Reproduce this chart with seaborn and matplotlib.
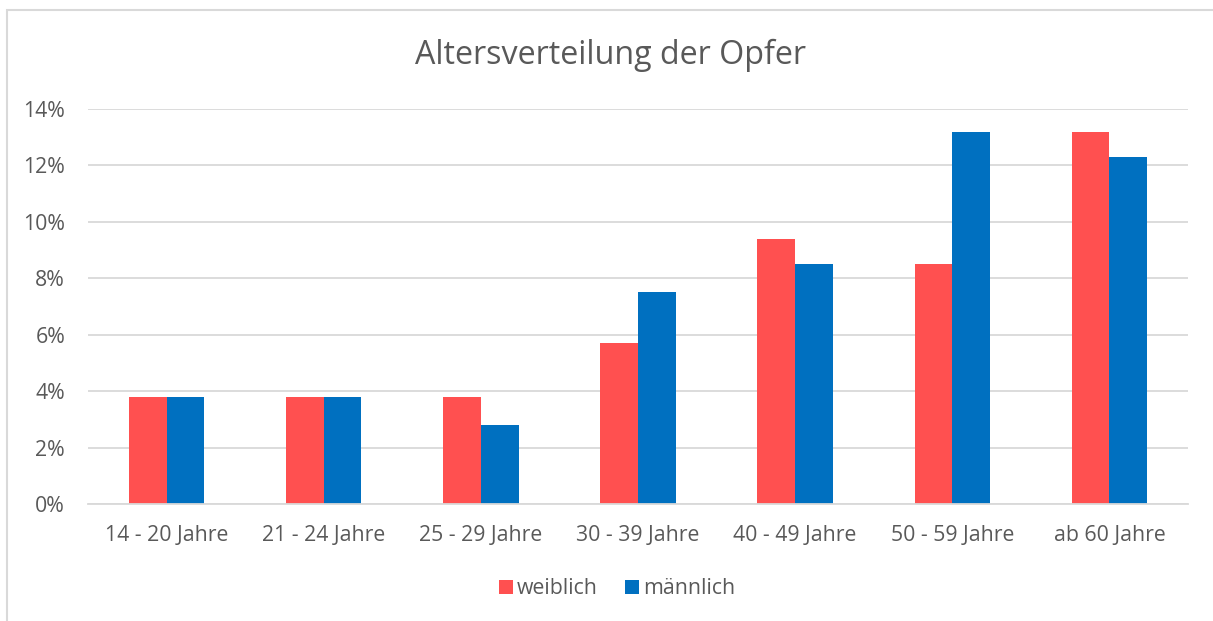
import matplotlib
matplotlib.use("Agg")
import matplotlib.pyplot as plt
import seaborn as sns
import pandas as pd
from matplotlib.patches import Rectangle
from matplotlib.ticker import FuncFormatter

categories = ["14 - 20 Jahre", "21 - 24 Jahre", "25 - 29 Jahre", "30 - 39 Jahre",
              "40 - 49 Jahre", "50 - 59 Jahre", "ab 60 Jahre"]
weiblich = [3.8, 3.8, 3.8, 5.7, 9.4, 8.5, 13.2]
maennlich = [3.8, 3.8, 2.8, 7.5, 8.5, 13.2, 12.3]
series_names = ["weiblich", "männlich"]
colors = ["#FF5050", "#0070C0"]
yticks = [0, 2, 4, 6, 8, 10, 12, 14]

df = pd.DataFrame({
    "Kategorie": categories * 2,
    "Wert": weiblich + maennlich,
    "Geschlecht": [series_names[0]] * len(categories) + [series_names[1]] * len(categories),
})

sns.set_theme(style="white")
plt.rcParams["font.family"] = ["Open Sans", "DejaVu Sans"]
txt = "#595959"

fig = plt.figure(figsize=(12.13, 6.21), dpi=100)
ax = fig.add_axes([88/1213, 1-504/621, (1188-88)/1213, (504-109)/621])

sns.barplot(data=df, x="Kategorie", y="Wert", hue="Geschlecht", palette=colors,
            width=0.48, saturation=1, ax=ax, legend=True)

ax.set_ylim(0, 14)
ax.set_xlim(-0.5, len(categories) - 0.5)
ax.set_yticks(yticks)
ax.yaxis.set_major_formatter(FuncFormatter(lambda v, p: f"{int(v)}%"))
ax.grid(axis="y", color="#D9D9D9", linewidth=1.3)
ax.set_axisbelow(True)
for s in ["top", "right", "left"]:
    ax.spines[s].set_visible(False)
ax.spines["bottom"].set_color("#D9D9D9")
ax.spines["bottom"].set_linewidth(1.3)
ax.set_xlabel("")
ax.set_ylabel("")
ax.tick_params(axis="both", length=0, labelsize=15.3, labelcolor=txt)
ax.tick_params(axis="y", pad=16.5)
ax.tick_params(axis="x", pad=15)

for p in ax.patches:
    p.set_edgecolor("none")

leg = ax.legend(loc="center", bbox_to_anchor=(0.481, -0.215), ncol=2, frameon=False,
                fontsize=15.3, handlelength=0.65, handleheight=0.65, handletextpad=0.2,
                columnspacing=1.3)
for t in leg.get_texts():
    t.set_color(txt)

fig.text(0.5035, 1-55/621, "Altersverteilung der Opfer", ha="center", va="center",
         fontsize=23.2, color=txt)

fig.patches.append(Rectangle((7/1213, -0.05), 1.1, 1-10/621 + 0.05, transform=fig.transFigure,
                             fill=False, edgecolor="#D9D9D9", linewidth=1.5))

fig.savefig("out.png", dpi=100)
